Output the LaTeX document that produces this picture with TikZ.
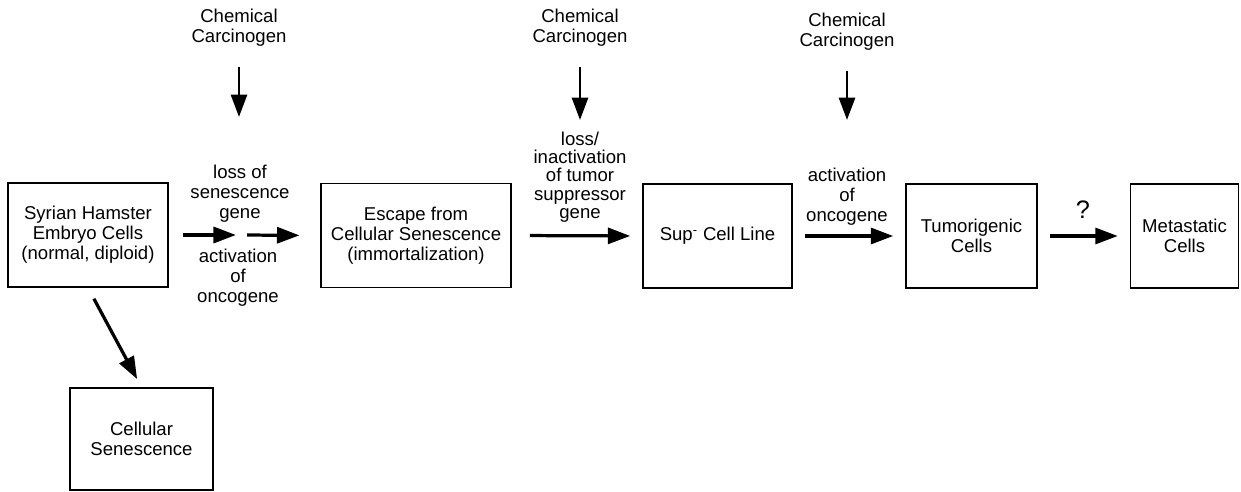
\documentclass[tikz,border=0pt]{standalone}
\usepackage{fontspec}
\setmainfont{Liberation Sans}
\usetikzlibrary{arrows.meta}
\begin{document}
\begin{tikzpicture}[x=0.025cm,y=-0.025cm,
  every node/.style={font=\fontsize{13.2}{14.2}\selectfont,align=center,inner sep=0pt},
  box/.style={draw,line width=1.1pt,minimum height=2.6cm},
  tight/.style={font=\fontsize{13.2}{13}\selectfont},
  flow/.style={line width=2.3pt,-{Triangle[length=0.56cm,width=0.4cm]}}]
\useasboundingbox (0,0) rectangle (1241,492);
% cell states
\node[box,minimum width=4cm] (ham) at (88,235) {Syrian Hamster\\Embryo Cells\\(normal, diploid)};
\node[box,minimum width=4.75cm] (esc) at (416,235.5) {Escape from\\Cellular Senescence\\(immortalization)};
\node[box,minimum width=3.725cm] (sup) at (717.5,236) {Sup\textsuperscript{-} Cell Line};
\node[box,minimum width=3.275cm] (tum) at (971.5,236) {Tumorigenic\\Cells};
\node[box,minimum width=2.7cm] (met) at (1184.5,236) {Metastatic\\Cells};
\node[box,minimum width=3.575cm,minimum height=2.55cm] (sen) at (141.5,439) {Cellular\\Senescence};
% carcinogen hits
\foreach \i/\x/\y/\yt in {1/239/28/117,2/580/28/120,3/847/32/120} {
  \node (chem\i) at (\x,\y) {Chemical\\Carcinogen};
  \coordinate (hit\i) at (\x,\yt);
  \draw[flow,line width=2pt,shorten <=0.5cm] (chem\i.south) -- (hit\i);
}
% step labels
\node (loss) at (240,194) {loss of\\senescence\\gene};
\node (act) at (238,278) {activation\\of\\oncogene};
\node[tight] (supr) at (580,177) {loss/\\inactivation\\of tumor\\suppressor\\gene};
\node (onc) at (847,197) {activation\\of\\oncogene};
\node[font=\fontsize{18}{18}\selectfont] (q) at (1083,210) {?};
% progression arrows
\coordinate (mid) at (241.5,235);
\draw[flow,shorten <=0.35cm,shorten >=0.14cm] (ham.east) -- (mid);
\draw[flow,shorten <=0.14cm,shorten >=0.52cm] (mid) -- (esc.west);
\draw[flow,shorten <=0.45cm,shorten >=0.3cm] (esc.east) -- (sup.west);
\draw[flow,shorten <=0.3cm,shorten >=0.3cm] (sup.east) -- (tum.west);
\draw[flow,shorten <=0.3cm,shorten >=0.3cm] (tum.east) -- (met.west);
\draw[flow,shorten <=0.31cm,shorten >=0.23cm] (ham.south) -- (sen.north);
\end{tikzpicture}
\end{document}
